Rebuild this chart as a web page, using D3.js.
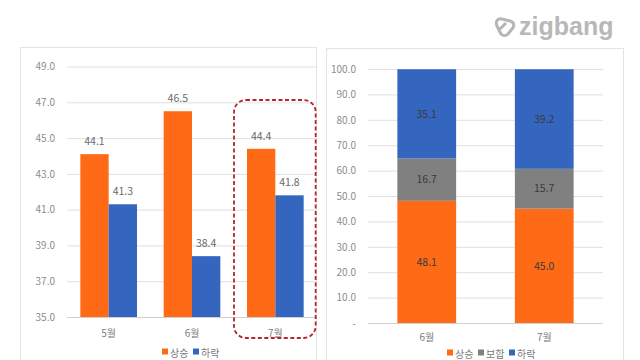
<!DOCTYPE html>
<html><head><meta charset="utf-8">
<script src="https://cdn.jsdelivr.net/npm/d3@7"></script>
<style>body{margin:0;background:#fff}svg{display:block}</style>
</head><body>
<svg id="c" width="640" height="360"></svg>
<script>
// Left chart data
const leftMonths = ["5월", "6월", "7월"];
const leftSeries = ["상승", "하락"];
const leftRise = [44.1, 46.5, 44.4];
const leftFall = [41.3, 38.4, 41.8];
const leftTicks = [35, 37, 39, 41, 43, 45, 47, 49];
// Right chart data
const rightMonths = ["6월", "7월"];
const rightSeries = ["상승", "보합", "하락"];
const rightRise = [48.1, 45.0];
const rightFlat = [16.7, 15.7];
const rightFall = [35.1, 39.2];
const rightTicks = [0, 10, 20, 30, 40, 50, 60, 70, 80, 90, 100];

const ORANGE = "#ff6a17", BLUE = "#3466c0", GRAY = "#808080";
const FONT = "'Noto Sans CJK KR', 'Liberation Sans', sans-serif";
const svg = d3.select("#c");

// panels
svg.append("rect").attr("x", 20.5).attr("y", 47.5).attr("width", 296).attr("height", 330)
  .attr("fill", "none").attr("stroke", "#e3e3e3");
svg.append("rect").attr("x", 326.5).attr("y", 48.5).attr("width", 297).attr("height", 330)
  .attr("fill", "none").attr("stroke", "#e3e3e3");

// logo
const logo = svg.append("g").attr("transform", "translate(494,17)");
logo.append("path")
  .attr("d", "M3,9 C1,4 4,1 8,2 L16,4 C20,5 21,9 18,12 L14,17 C12,19 9,19 7,17 Z M5,13 L12,6")
  .attr("fill", "none").attr("stroke", "#b5b5b5").attr("stroke-width", 3).attr("stroke-linejoin", "round");
svg.append("text").attr("x", 519).attr("y", 35).text("zigbang")
  .attr("font-family", "'Liberation Sans', Arial, sans-serif").attr("font-weight", "bold")
  .attr("font-size", 25).attr("fill", "#b8b8b8");

// ---------- Left chart ----------
{
  const x0 = d3.scaleBand().domain(leftMonths).range([67, 317]).paddingInner(0.32).paddingOuter(0.16);
  const x1 = d3.scaleBand().domain(leftSeries).range([0, x0.bandwidth()]);
  const y = d3.scaleLinear().domain([35, 49]).range([317, 66.5]);
  const g = svg.append("g");
  const yAxis = d3.axisLeft(y).tickValues(leftTicks).tickFormat(d3.format(".1f")).tickSize(-250).tickPadding(12);
  const ga = g.append("g").attr("transform", "translate(67,0)").call(yAxis);
  ga.select(".domain").remove();
  ga.selectAll(".tick line").attr("stroke", "#e0e0e0");
  ga.selectAll(".tick text").attr("fill", "#8c8c8c").attr("font-size", 10).attr("font-family", FONT);
  g.append("line").attr("x1", 67).attr("x2", 317).attr("y1", 317.5).attr("y2", 317.5).attr("stroke", "#d0d0d0");

  const rows = leftMonths.map((m, i) => ({m, vals: [{s: "상승", v: leftRise[i]}, {s: "하락", v: leftFall[i]}]}));
  const grp = g.selectAll(".grp").data(rows).enter().append("g").attr("transform", d => `translate(${x0(d.m)},0)`);
  grp.selectAll("rect").data(d => d.vals).enter().append("rect")
    .attr("x", d => x1(d.s)).attr("width", x1.bandwidth())
    .attr("y", d => y(d.v)).attr("height", d => y(35) - y(d.v))
    .attr("fill", d => d.s === "상승" ? ORANGE : BLUE);
  grp.selectAll("text").data(d => d.vals).enter().append("text")
    .attr("x", d => x1(d.s) + x1.bandwidth() / 2).attr("y", d => y(d.v) - 9)
    .attr("text-anchor", "middle").attr("font-size", 10.5).attr("font-family", FONT).attr("fill", "#6a6a6a")
    .text(d => d.v.toFixed(1));
  g.selectAll(".cat").data(leftMonths).enter().append("text")
    .attr("x", d => x0(d) + x0.bandwidth() / 2).attr("y", 337)
    .attr("text-anchor", "middle").attr("font-size", 10).attr("font-family", FONT).attr("fill", "#7a7a7a").text(d => d);
  // highlight box around 7월
  const hx = x0("7월");
  g.append("rect").attr("x", hx - 13).attr("y", 100).attr("width", x0.bandwidth() + 25).attr("height", 238)
    .attr("rx", 12).attr("fill", "none").attr("stroke", "#b5262b").attr("stroke-width", 1.8).attr("stroke-dasharray", "4,2.5");
  // legend
  const lg = g.append("g").attr("transform", "translate(162,353)");
  leftSeries.forEach((s, i) => {
    lg.append("rect").attr("x", i * 31).attr("y", -4.5).attr("width", 6).attr("height", 6).attr("fill", i === 0 ? ORANGE : BLUE);
    lg.append("text").attr("x", i * 31 + 8).attr("y", 0).attr("dy", "0.35em").attr("font-size", 10)
      .attr("font-family", FONT).attr("fill", "#7a7a7a").text(s);
  });
}

// ---------- Right chart ----------
{
  const x = d3.scaleBand().domain(rightMonths).range([368, 603]).paddingInner(0.5).paddingOuter(0.25);
  const y = d3.scaleLinear().domain([0, 100]).range([323, 69]);
  const g = svg.append("g");
  const yAxis = d3.axisLeft(y).tickValues(rightTicks).tickFormat(d => d === 0 ? "-" : d3.format(".1f")(d)).tickSize(-235).tickPadding(12);
  const ga = g.append("g").attr("transform", "translate(368,0)").call(yAxis);
  ga.select(".domain").remove();
  ga.selectAll(".tick line").attr("stroke", "#e0e0e0");
  ga.selectAll(".tick text").attr("fill", "#8c8c8c").attr("font-size", 10).attr("font-family", FONT);
  g.append("line").attr("x1", 368).attr("x2", 603).attr("y1", 323.5).attr("y2", 323.5).attr("stroke", "#d0d0d0");

  const rows = rightMonths.map((m, i) => ({m, 상승: rightRise[i], 보합: rightFlat[i], 하락: rightFall[i]}));
  const stack = d3.stack().keys(rightSeries)(rows);
  const colors = {"상승": ORANGE, "보합": GRAY, "하락": BLUE};
  stack.forEach(layer => {
    const key = layer.key;
    g.selectAll(null).data(layer).enter().append("rect")
      .attr("x", d => x(d.data.m)).attr("width", x.bandwidth())
      .attr("y", d => y(d[1])).attr("height", d => y(d[0]) - y(d[1]))
      .attr("fill", colors[key]);
    g.selectAll(null).data(layer).enter().append("text")
      .attr("x", d => x(d.data.m) + x.bandwidth() / 2).attr("y", d => (y(d[0]) + y(d[1])) / 2)
      .attr("dy", "0.35em").attr("text-anchor", "middle").attr("font-size", 10.5).attr("font-family", FONT)
      .attr("fill", "#3a3a3a").text(d => (d[1] - d[0]).toFixed(1));
  });
  g.selectAll(".cat").data(rightMonths).enter().append("text")
    .attr("x", d => x(d) + x.bandwidth() / 2).attr("y", 341)
    .attr("text-anchor", "middle").attr("font-size", 10).attr("font-family", FONT).attr("fill", "#7a7a7a").text(d => d);
  const lg = g.append("g").attr("transform", "translate(447,354)");
  rightSeries.forEach((s, i) => {
    lg.append("rect").attr("x", i * 31).attr("y", -4.5).attr("width", 6).attr("height", 6).attr("fill", colors[s]);
    lg.append("text").attr("x", i * 31 + 8).attr("y", 0).attr("dy", "0.35em").attr("font-size", 10)
      .attr("font-family", FONT).attr("fill", "#7a7a7a").text(s);
  });
}
</script>
</body></html>
